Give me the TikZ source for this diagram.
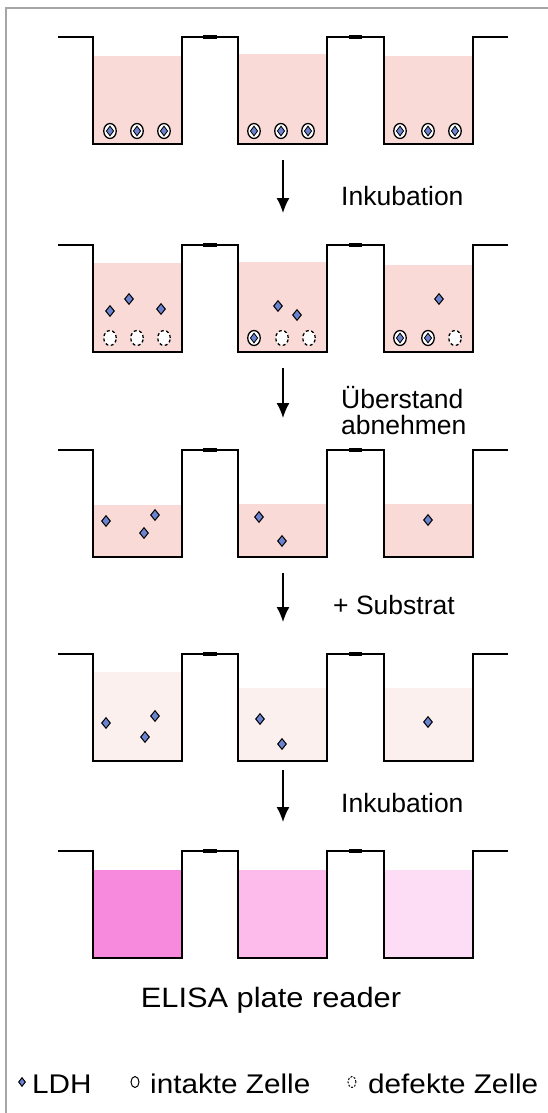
\documentclass[tikz,border=0pt]{standalone}
\usepackage{fontspec}
\setmainfont{Liberation Sans}
\newfontfamily\widefont[FakeStretch=1.1]{Liberation Sans}
\begin{document}
\begin{tikzpicture}[x=1pt,y=-1pt,
  plate/.style={line width=2.4pt,line join=miter,black},
  tabmark/.style={line width=4pt,black},
  frame/.style={line width=2pt,draw=black!35},
  flow/.style={line width=1.4pt,-{Latex[length=15pt,width=13pt]}},
  lbl/.style={font=\fontsize{26.5}{31}\selectfont,inner sep=0pt},
  keytext/.style={font=\widefont\fontsize{27}{31}\selectfont,inner sep=0pt},
  cellbody/.style={ellipse,draw=black,line width=1.3pt,fill=white,minimum width=12.5pt,minimum height=15pt,inner sep=0pt},
  intact/.style={cellbody},
  defect/.style={cellbody,dashed,dash pattern=on 3pt off 2.5pt},
  ldh/.style={diamond,draw=black,line width=1pt,fill=ldhblue,minimum width=9pt,minimum height=11pt,inner sep=0pt,aspect=0.8},
  ldhin/.style={diamond,draw=black,line width=0.8pt,fill=ldhblue,minimum width=7.5pt,minimum height=10pt,inner sep=0pt,aspect=0.75},
]
\usetikzlibrary{shapes.geometric,arrows.meta}
\definecolor{ldhblue}{RGB}{107,131,207}
\definecolor{medium}{RGB}{249,218,214}
\definecolor{substrate}{RGB}{252,240,238}
\definecolor{darkred}{RGB}{248,138,222}
\definecolor{midred}{RGB}{252,187,234}
\definecolor{lightred}{RGB}{253,221,245}

\useasboundingbox (0,0) rectangle (548,1113);
\fill[white] (0,0) rectangle (548,1113);
\draw[frame] (6,1113) -- (6,8) -- (548,8);

% one row of three wells: #1 = rim height, #2 = floor height
\newcommand\platerow[2]{%
  \draw[plate] (58,#1) -- (93,#1) -- (93,#2) -- (182,#2) -- (182,#1) -- (238,#1)
    -- (238,#2) -- (327,#2) -- (327,#1) -- (384,#1) -- (384,#2) -- (473,#2)
    -- (473,#1) -- (508,#1);
  \draw[tabmark] (203,#1) -- (217,#1);
  \draw[tabmark] (349,#1) -- (362,#1);
}

% ---------- row 1 : cells in medium ----------
\fill[medium] (93,56) rectangle (182,144);
\fill[medium] (238,54) rectangle (327,144);
\fill[medium] (384,56) rectangle (473,144);
\platerow{37}{144}
\foreach \x [count=\i] in {110,137,164,254,281,308,400,428,455}{
  \node[intact] (c1\i) at (\x,131) {};
  \node[ldhin] (d1\i) at (c1\i) {};
}

% ---------- row 2 : after incubation ----------
\fill[medium] (93,263) rectangle (182,352);
\fill[medium] (238,262) rectangle (327,352);
\fill[medium] (384,265) rectangle (473,352);
\platerow{245}{352}
\node[defect] (c21) at (110,338) {};
\node[defect] (c22) at (137,338) {};
\node[defect] (c23) at (164,338) {};
\node[intact] (c24) at (254,338) {};
\node[ldhin] at (c24) {};
\node[defect] (c25) at (282,338) {};
\node[defect] (c26) at (309,338) {};
\node[intact] (c27) at (400,338) {};
\node[ldhin] at (c27) {};
\node[intact] (c28) at (428,338) {};
\node[ldhin] at (c28) {};
\node[defect] (c29) at (455,338) {};
\node[ldh] (e21) at (110,311) {};
\node[ldh] (e22) at (129,299) {};
\node[ldh] (e23) at (161,309) {};
\node[ldh] (e24) at (278,306) {};
\node[ldh] (e25) at (297,315) {};
\node[ldh] (e26) at (439,299) {};

% ---------- row 3 : supernatant ----------
\fill[medium] (93,505) rectangle (182,557);
\fill[medium] (238,504) rectangle (327,557);
\fill[medium] (384,504) rectangle (473,557);
\platerow{450}{557}
\node[ldh] (e31) at (106,521) {};
\node[ldh] (e32) at (155,515) {};
\node[ldh] (e33) at (144,533) {};
\node[ldh] (e34) at (259,517) {};
\node[ldh] (e35) at (282,541) {};
\node[ldh] (e36) at (428,520) {};

% ---------- row 4 : substrate added ----------
\fill[substrate] (93,672) rectangle (182,761);
\fill[substrate] (238,688) rectangle (327,761);
\fill[substrate] (384,688) rectangle (473,761);
\platerow{654}{761}
\node[ldh] (e41) at (106,723) {};
\node[ldh] (e42) at (155,716) {};
\node[ldh] (e43) at (145,737) {};
\node[ldh] (e44) at (260,719) {};
\node[ldh] (e45) at (282,744) {};
\node[ldh] (e46) at (428,722) {};

% ---------- row 5 : colour reaction ----------
\fill[darkred] (93,870) rectangle (182,958);
\fill[midred] (238,870) rectangle (327,958);
\fill[lightred] (384,870) rectangle (473,958);
\platerow{851}{958}

% ---------- process arrows and steps ----------
\coordinate (a1s) at (283,160); \coordinate (a1e) at (283,213);
\coordinate (a2s) at (283,368); \coordinate (a2e) at (283,418);
\coordinate (a3s) at (283,573); \coordinate (a3e) at (283,622);
\coordinate (a4s) at (283,770); \coordinate (a4e) at (283,822);
\draw[flow] (a1s) -- (a1e);
\draw[flow] (a2s) -- (a2e);
\draw[flow] (a3s) -- (a3e);
\draw[flow] (a4s) -- (a4e);
\node[lbl,anchor=west] (s1) at (341,196) {Inkubation};
\node[lbl,anchor=west] (s2a) at (341,398) {Überstand};
\node[lbl,anchor=west] (s2b) at (341,425) {abnehmen};
\node[lbl,anchor=west] (s3) at (333,605) {+ Substrat};
\node[lbl,anchor=west] (s4) at (341,803) {Inkubation};
\node[keytext,font=\widefont\fontsize{28}{33}\selectfont] (s5) at (271,1000) {ELISA plate reader};

% ---------- legend ----------
\node[ldh,minimum width=7pt,minimum height=9pt] (k1) at (22,1082) {};
\node[keytext,anchor=west] (k1t) at (32,1084) {LDH};
\node[cellbody,line width=1pt,minimum width=8pt,minimum height=11pt] (k2) at (135,1082) {};
\node[keytext,anchor=west] (k2t) at (150,1084) {intakte Zelle};
\node[cellbody,line width=1pt,dashed,dash pattern=on 2pt off 1.5pt,minimum width=8pt,minimum height=11pt] (k3) at (352,1082) {};
\node[keytext,anchor=west] (k3t) at (368,1084) {defekte Zelle};
\end{tikzpicture}
\end{document}
